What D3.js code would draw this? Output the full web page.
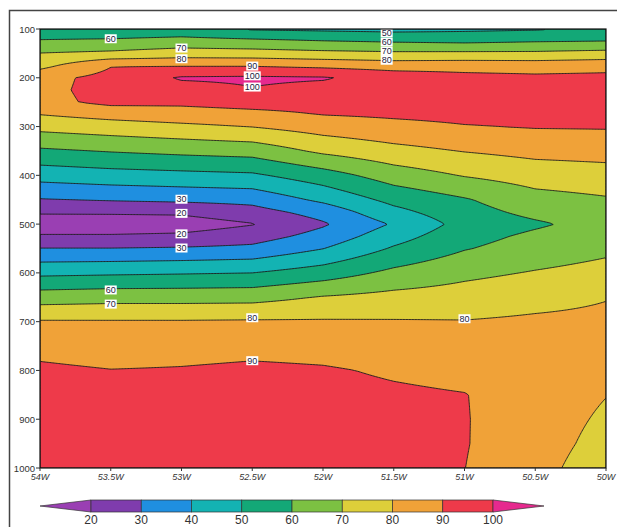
<!DOCTYPE html>
<html><head><meta charset="utf-8">
<script src="https://cdn.jsdelivr.net/npm/d3@7"></script>
<style>body{margin:0;background:#fff;} svg{display:block;}</style>
</head><body>
<svg id="chart" width="617" height="527"></svg>
<script>
// Longitudes (degrees W) of grid columns
const lons = [54, 53.5, 53, 52.5, 52, 51.5, 51, 50.5, 50];
// Pressure levels (hPa) of grid rows
const levels = [100,125,150,175,200,225,250,275,300,350,400,450,475,500,525,550,600,650,700,750,800,850,900,950,1000];
// Relative humidity (%) per level, columns follow lons
const rh100  = [53, 52, 53, 49, 48, 47, 48, 49, 52];
const rh125  = [61, 62, 63.9, 62.4, 60.4, 59, 58, 59.4, 60];
const rh150  = [70.3, 72, 74.9, 74.3, 72.8, 71.8, 72, 72, 73.5];
const rh175  = [77, 89.5, 89.3, 89.3, 87.5, 85.5, 86, 85.5, 86.5];
const rh200  = [87, 93, 101, 101.5, 100.8, 96, 93, 92, 92.5];
const rh225  = [87.5, 93.2, 96.4, 99.5, 97.1, 96, 94.5, 93, 93.5];
const rh250  = [87, 92.5, 92, 93.7, 93.7, 94, 94, 93, 93];
const rh275  = [80.2, 83.6, 85.8, 87.4, 90.3, 91.5, 92.5, 92, 92];
const rh300  = [73.1, 75.5, 77.8, 80.3, 84.5, 87.3, 89.5, 90.6, 90.8];
const rh350  = [58.3, 60.6, 62.5, 64, 72, 76.9, 80.4, 82.9, 83.7];
const rh400  = [44, 46, 47.2, 48.4, 55.6, 64.9, 70.6, 74.5, 76];
const rh450  = [29.4, 30.8, 32, 33.1, 42.1, 52.9, 59.1, 66.4, 69];
const rh475  = [21.3, 21.5, 21.8, 26.2, 34, 47.1, 56.3, 62.7, 66.5];
const rh500  = [14, 14, 15, 19.5, 28.8, 41, 53.5, 58.5, 64];
const rh525  = [21.1, 21.1, 21.9, 25.6, 33.7, 46, 56.5, 62, 65.8];
const rh550  = [30.3, 30.3, 31, 32.3, 39.8, 51.1, 59.4, 64.4, 68];
const rh600  = [47.7, 48.5, 49.2, 50, 54.9, 62.4, 67.6, 70.7, 73.3];
const rh650  = [65.2, 66.3, 66.3, 66.6, 70.7, 73.1, 74.5, 77, 79.6];
const rh700  = [80.9, 80.8, 80.8, 81.1, 81, 80.7, 80.4, 81.5, 82];
const rh750  = [86.6, 84.6, 85.9, 86.9, 86.3, 84.7, 83.8, 83.5, 82.5];
const rh800  = [92, 90.3, 90.8, 92, 91, 88.8, 87.2, 84.5, 81.5];
const rh850  = [94, 93, 93, 94, 93, 91.5, 90.3, 85, 80.2];
const rh900  = [95, 94, 94, 95, 94, 92.5, 90.5, 84.5, 78.6];
const rh950  = [95, 94, 94, 95, 94, 93, 90.5, 84, 77];
const rh1000 = [94, 93, 93, 94, 93, 92.5, 90.1, 83, 75];
const rh = [rh100,rh125,rh150,rh175,rh200,rh225,rh250,rh275,rh300,rh350,rh400,rh450,rh475,rh500,rh525,rh550,rh600,rh650,rh700,rh750,rh800,rh850,rh900,rh950,rh1000];

// Contour / shading levels and colours (first = below 20, last = above 100)
const thresholds = [20,30,40,50,60,70,80,90,100];
const bandColors = ["#9a3fb3","#7f3cad","#1f8fe0","#13b3b3","#13a877","#7cc142","#ddcf3a","#f0a238","#ee3a4a","#e6298e"];
// Axis ticks
const xTicks = [54, 53.5, 53, 52.5, 52, 51.5, 51, 50.5, 50];
const xTickLabels = ["54W","53.5W","53W","52.5W","52W","51.5W","51W","50.5W","50W"];
const yTicks = [100,200,300,400,500,600,700,800,900,1000];
// Contour labels: longitude, pressure, value
const labelLon = [53.5, 53, 53, 52.5, 52.5, 52.5, 51.55, 51.55, 51.55, 51.55, 53, 53, 53, 53, 53.5, 53.5, 52.5, 52.5, 51];
const labelP   = [120, 139, 161, 176, 196, 219, 108, 127, 146, 164, 449, 478, 520, 549, 635, 664, 692, 780, 694];
const labelVal = [60, 70, 80, 90, 100, 100, 50, 60, 70, 80, 30, 20, 20, 30, 60, 70, 80, 90, 80];

const svg = d3.select("#chart");
const M = {left:40, top:29, right:606, bottom:468};
const x = d3.scaleLinear().domain([54,50]).range([M.left, M.right]);
const y = d3.scaleLinear().domain([100,1000]).range([M.top, M.bottom]);

// sampling of the gridded field (bilinear) onto a fine raster
const lonIdx = d3.scaleLinear().domain(lons).range(d3.range(lons.length)).clamp(true);
const levIdx = d3.scaleLinear().domain(levels).range(d3.range(levels.length)).clamp(true);
function sample(lon, p){
  const fi = lonIdx(lon), fj = levIdx(p);
  const i0 = Math.min(Math.floor(fi), lons.length-2), j0 = Math.min(Math.floor(fj), levels.length-2);
  const tx = fi - i0, ty = fj - j0;
  const a = rh[j0][i0], b = rh[j0][i0+1], c = rh[j0+1][i0], d = rh[j0+1][i0+1];
  return (1-ty)*((1-tx)*a + tx*b) + ty*((1-tx)*c + tx*d);
}
const cell = 1.5;
const nx = Math.round((M.right-M.left)/cell), ny = Math.round((M.bottom-M.top)/cell);
const cw = (M.right-M.left)/nx, ch = (M.bottom-M.top)/ny;
const values = new Array(nx*ny);
for (let j=0;j<ny;j++) for (let i=0;i<nx;i++){
  values[j*nx+i] = sample(x.invert(M.left+(i+0.5)*cw), y.invert(M.top+(j+0.5)*ch));
}
const contours = d3.contours().size([nx,ny]).thresholds(thresholds)(values);
const proj = d3.geoTransform({point(px,py){ this.stream.point(M.left+px*cw, M.top+py*ch); }});
const path = d3.geoPath(proj);

svg.append("defs").append("clipPath").attr("id","clip")
  .append("rect").attr("x",M.left).attr("y",M.top).attr("width",M.right-M.left).attr("height",M.bottom-M.top);

const g = svg.append("g").attr("clip-path","url(#clip)");
g.append("rect").attr("x",M.left).attr("y",M.top).attr("width",M.right-M.left).attr("height",M.bottom-M.top)
  .attr("fill",bandColors[0]);
g.selectAll("path.band").data(contours).join("path").attr("class","band")
  .attr("d",path).attr("fill",(d,i)=>bandColors[i+1])
  .attr("stroke","#1c1c1c").attr("stroke-width",0.9).attr("stroke-linejoin","round");

// contour labels
const lg = svg.append("g");
labelVal.forEach((v,k)=>{
  const px = x(labelLon[k]), py = y(labelP[k]);
  const t = lg.append("text").attr("x",px).attr("y",py+3).attr("text-anchor","middle")
    .attr("font-family","Arial, Liberation Sans, sans-serif").attr("font-size",9).attr("fill","#1d2340").text(v);
  const w = t.node().getComputedTextLength();
  lg.insert("rect","text").attr("x",px-w/2-1).attr("y",py-4.5).attr("width",w+2).attr("height",9).attr("fill","#fff");
});
lg.selectAll("text").raise();

// plot frame
svg.append("rect").attr("x",M.left).attr("y",M.top).attr("width",M.right-M.left).attr("height",M.bottom-M.top)
  .attr("fill","none").attr("stroke","#111").attr("stroke-width",1.2);

// y axis
const ya = svg.append("g");
yTicks.forEach(p=>{
  ya.append("line").attr("x1",M.left-4).attr("x2",M.left).attr("y1",y(p)).attr("y2",y(p)).attr("stroke","#333").attr("stroke-width",1);
  ya.append("text").attr("x",M.left-5).attr("y",y(p)+3.5).attr("text-anchor","end")
    .attr("font-family","Arial, Liberation Sans, sans-serif").attr("font-size",9.5).attr("fill","#333").text(p);
});
// x axis
const xa = svg.append("g");
xTicks.forEach((l,k)=>{
  xa.append("line").attr("x1",x(l)).attr("x2",x(l)).attr("y1",M.bottom).attr("y2",M.bottom+3).attr("stroke","#333").attr("stroke-width",1);
  xa.append("text").attr("x",x(l)).attr("y",M.bottom+11.5).attr("text-anchor","middle")
    .attr("font-family","Arial, Liberation Sans, sans-serif").attr("font-style","italic").attr("font-size",9)
    .attr("fill","#333").text(xTickLabels[k]);
});

// colour bar
const cb = d3.scaleLinear().domain([20,100]).range([91,493]);
const cbTop = 500, cbBot = 512, cbMid = 506, triLen = 51;
const cbg = svg.append("g");
cbg.append("path").attr("d",`M${cb(20)},${cbTop}L${cb(20)-triLen},${cbMid}L${cb(20)},${cbBot}Z`)
  .attr("fill",bandColors[0]).attr("stroke","#333").attr("stroke-width",0.7);
for (let k=0;k<thresholds.length-1;k++){
  cbg.append("rect").attr("x",cb(thresholds[k])).attr("y",cbTop).attr("width",cb(thresholds[k+1])-cb(thresholds[k]))
    .attr("height",cbBot-cbTop).attr("fill",bandColors[k+1]).attr("stroke","#333").attr("stroke-width",0.7);
}
cbg.append("path").attr("d",`M${cb(100)},${cbTop}L${cb(100)+triLen},${cbMid}L${cb(100)},${cbBot}Z`)
  .attr("fill",bandColors[9]).attr("stroke","#333").attr("stroke-width",0.7);
thresholds.forEach(t=>{
  cbg.append("text").attr("x",cb(t)).attr("y",524).attr("text-anchor","middle")
    .attr("font-family","Arial, Liberation Sans, sans-serif").attr("font-size",12).attr("fill","#333").text(t);
});

// outer frame
svg.append("rect").attr("x",9.5).attr("y",10.5).attr("width",620).attr("height",540)
  .attr("fill","none").attr("stroke","#444").attr("stroke-width",1.5);
</script>
</body></html>
